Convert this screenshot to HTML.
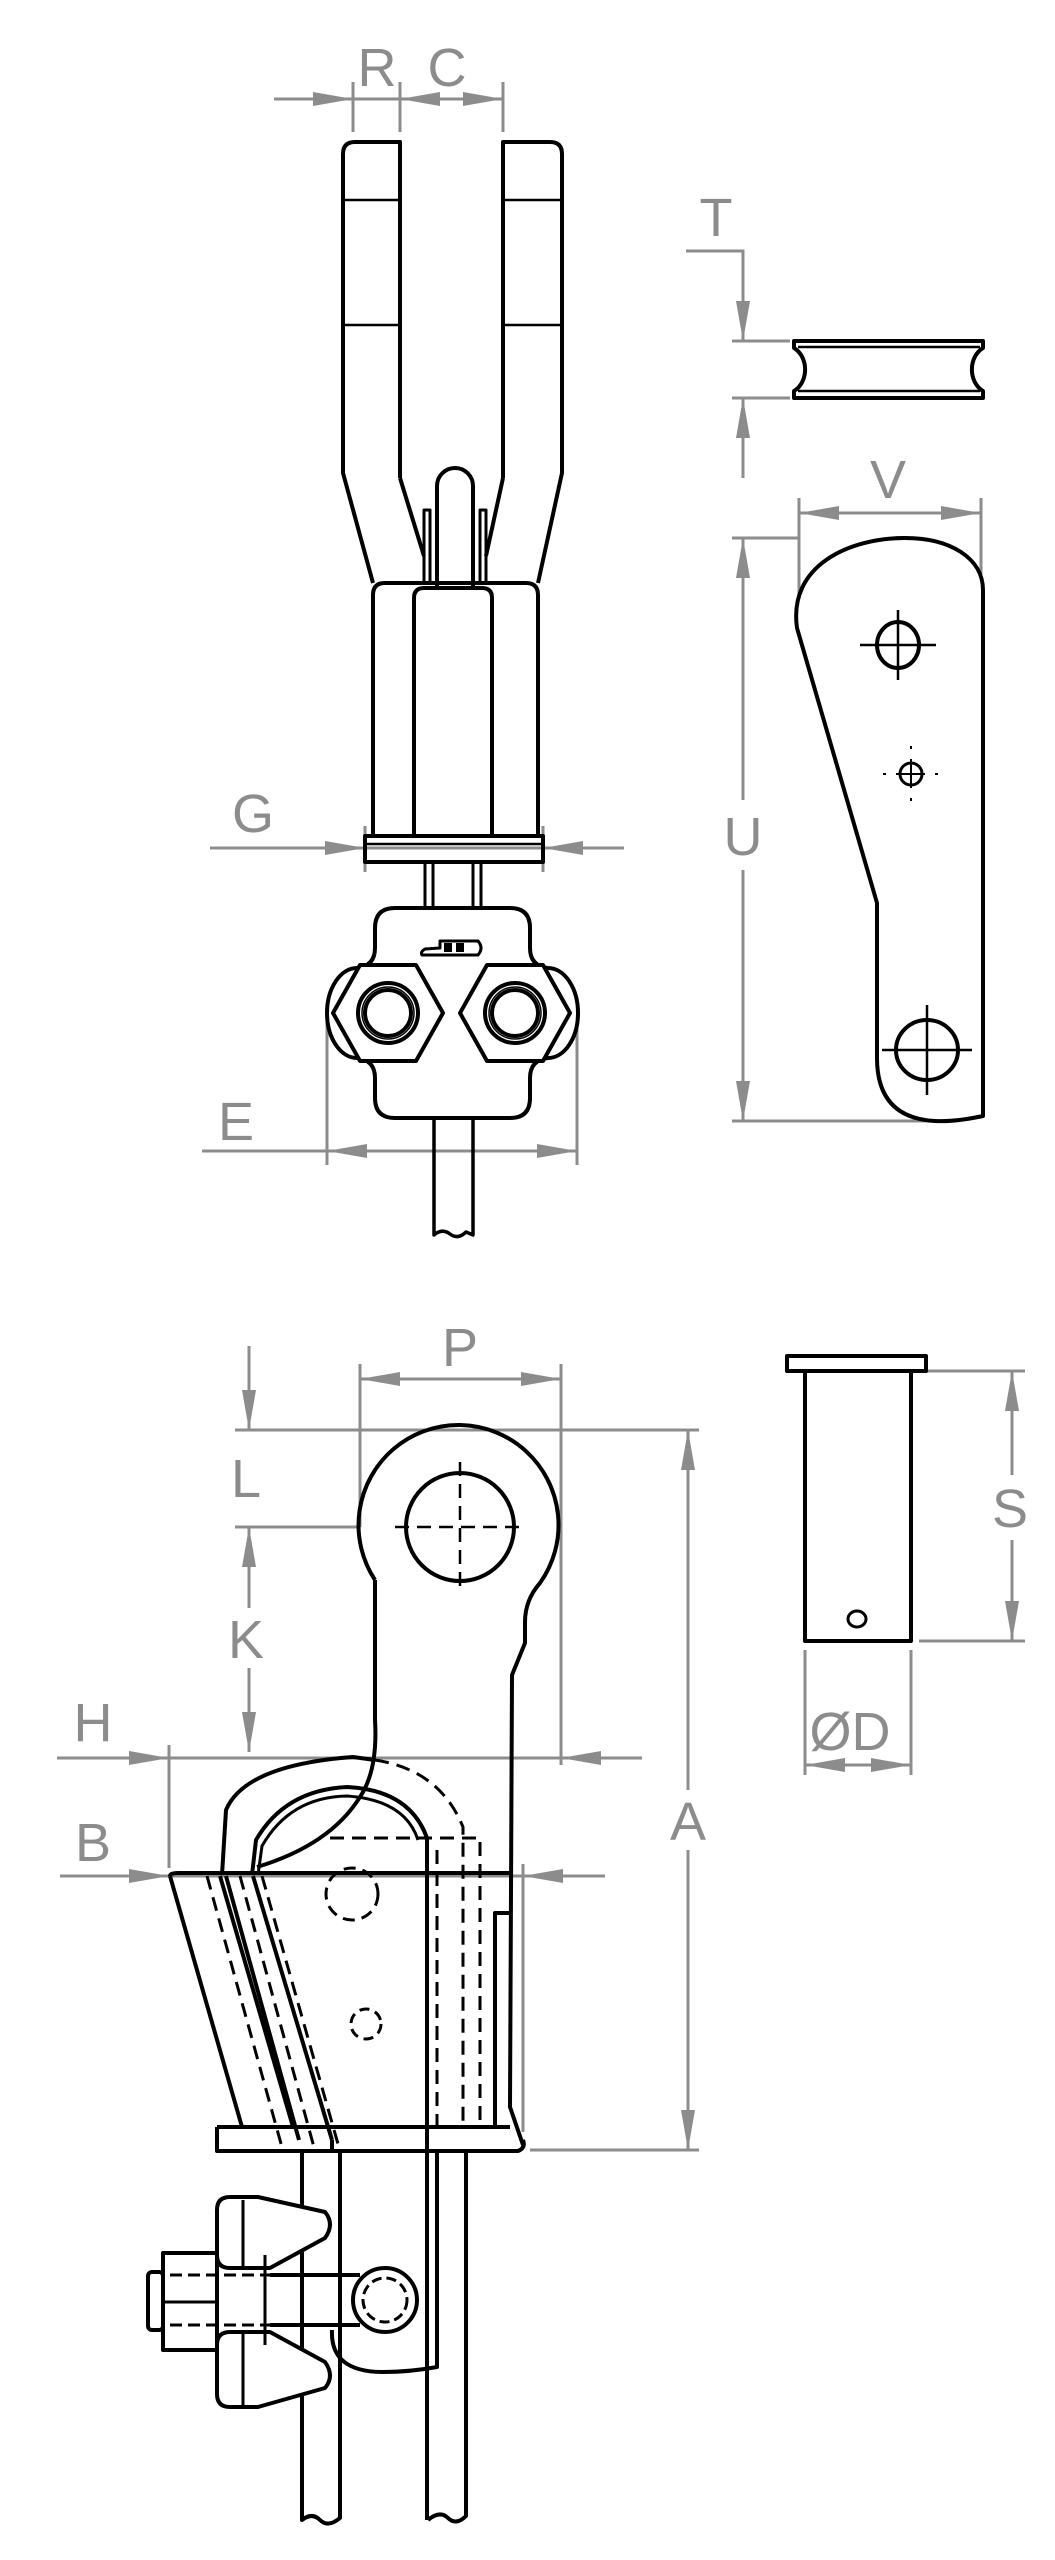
<!DOCTYPE html>
<html><head><meta charset="utf-8"><style>
html,body{margin:0;padding:0;background:#fff}
svg{display:block}
text{font-family:"Liberation Sans",sans-serif;fill:#8c8c8c;text-anchor:middle}
</style></head><body>
<svg width="1055" height="2560" viewBox="0 0 1055 2560" xmlns="http://www.w3.org/2000/svg">
<defs>
<marker id="a" markerUnits="userSpaceOnUse" markerWidth="44" markerHeight="20" refX="40" refY="10" orient="auto"><path d="M0,3 L40,10 L0,17 Z" fill="#8c8c8c"/></marker>
</defs>

<!-- ============ DIMENSIONS (grey) ============ -->
<g stroke="#8c8c8c" stroke-width="3" fill="none">
<!-- R C -->
<line x1="274" y1="99" x2="503" y2="99"/>
<line x1="353" y1="82" x2="353" y2="132"/><line x1="400" y1="82" x2="400" y2="132"/><line x1="503" y1="82" x2="503" y2="132"/>
<line x1="312" y1="99" x2="353" y2="99" marker-end="url(#a)"/>
<line x1="442" y1="99" x2="400" y2="99" marker-end="url(#a)"/>
<line x1="462" y1="99" x2="503" y2="99" marker-end="url(#a)"/>
<!-- G -->
<line x1="210" y1="848" x2="624" y2="848"/>
<line x1="365" y1="826" x2="365" y2="872"/><line x1="543" y1="826" x2="543" y2="872"/>
<line x1="320" y1="848" x2="365" y2="848" marker-end="url(#a)"/>
<line x1="588" y1="848" x2="543" y2="848" marker-end="url(#a)"/>
<!-- E -->
<line x1="202" y1="1151" x2="578" y2="1151"/>
<line x1="327" y1="1015" x2="327" y2="1165"/><line x1="577" y1="1015" x2="577" y2="1165"/>
<line x1="370" y1="1151" x2="327" y2="1151" marker-end="url(#a)"/>
<line x1="535" y1="1151" x2="577" y2="1151" marker-end="url(#a)"/>
<!-- T -->
<polyline points="686,251 743,251 743,300"/>
<line x1="743" y1="296" x2="743" y2="341" marker-end="url(#a)"/>
<line x1="732" y1="341" x2="790" y2="341"/><line x1="732" y1="398" x2="790" y2="398"/>
<line x1="743" y1="478" x2="743" y2="440"/>
<line x1="743" y1="442" x2="743" y2="398" marker-end="url(#a)"/>
<!-- V -->
<line x1="799" y1="513" x2="981" y2="513"/>
<line x1="799" y1="498" x2="799" y2="595"/><line x1="981" y1="498" x2="981" y2="580"/>
<line x1="842" y1="513" x2="799" y2="513" marker-end="url(#a)"/>
<line x1="938" y1="513" x2="981" y2="513" marker-end="url(#a)"/>
<!-- U -->
<line x1="732" y1="538" x2="799" y2="538"/><line x1="732" y1="1121" x2="926" y2="1121"/>
<line x1="743" y1="538" x2="743" y2="800"/><line x1="743" y1="870" x2="743" y2="1121"/>
<line x1="743" y1="580" x2="743" y2="538" marker-end="url(#a)"/>
<line x1="743" y1="1080" x2="743" y2="1121" marker-end="url(#a)"/>
<!-- P -->
<line x1="360" y1="1379" x2="561" y2="1379"/>
<line x1="360" y1="1364" x2="360" y2="1527"/><line x1="561" y1="1364" x2="561" y2="1765"/>
<line x1="402" y1="1379" x2="360" y2="1379" marker-end="url(#a)"/>
<line x1="519" y1="1379" x2="561" y2="1379" marker-end="url(#a)"/>
<!-- L / K -->
<line x1="249" y1="1346" x2="249" y2="1430" marker-end="url(#a)"/>
<line x1="235" y1="1430" x2="699" y2="1430"/>
<line x1="235" y1="1527" x2="360" y2="1527"/>
<line x1="249" y1="1527" x2="249" y2="1608"/><line x1="249" y1="1668" x2="249" y2="1752"/>
<line x1="249" y1="1570" x2="249" y2="1527" marker-end="url(#a)"/>
<line x1="249" y1="1710" x2="249" y2="1752" marker-end="url(#a)"/>
<!-- H -->
<line x1="57" y1="1758" x2="642" y2="1758"/>
<line x1="169" y1="1745" x2="169" y2="1868"/>
<line x1="127" y1="1758" x2="169" y2="1758" marker-end="url(#a)"/>
<line x1="603" y1="1758" x2="561" y2="1758" marker-end="url(#a)"/>
<!-- B -->
<line x1="60" y1="1876" x2="605" y2="1876"/>
<line x1="523" y1="1864" x2="523" y2="2132"/>
<line x1="127" y1="1876" x2="169" y2="1876" marker-end="url(#a)"/>
<line x1="565" y1="1876" x2="523" y2="1876" marker-end="url(#a)"/>
<!-- A -->
<line x1="688" y1="1430" x2="688" y2="1790"/><line x1="688" y1="1850" x2="688" y2="2150"/>
<line x1="530" y1="2150" x2="699" y2="2150"/>
<line x1="688" y1="1472" x2="688" y2="1430" marker-end="url(#a)"/>
<line x1="688" y1="2108" x2="688" y2="2150" marker-end="url(#a)"/>
<!-- S -->
<line x1="919" y1="1371" x2="1025" y2="1371"/><line x1="919" y1="1641" x2="1025" y2="1641"/>
<line x1="1012" y1="1371" x2="1012" y2="1475"/><line x1="1012" y1="1540" x2="1012" y2="1641"/>
<line x1="1012" y1="1413" x2="1012" y2="1371" marker-end="url(#a)"/>
<line x1="1012" y1="1599" x2="1012" y2="1641" marker-end="url(#a)"/>
<!-- D -->
<line x1="805" y1="1650" x2="805" y2="1775"/><line x1="911" y1="1650" x2="911" y2="1775"/>
<line x1="805" y1="1765" x2="911" y2="1765"/>
<line x1="848" y1="1765" x2="805" y2="1765" marker-end="url(#a)"/>
<line x1="868" y1="1765" x2="911" y2="1765" marker-end="url(#a)"/>
</g>

<g font-size="54">
<text x="377" y="86">R</text><text x="447" y="86">C</text>
<text x="253" y="832">G</text>
<text x="236" y="1140">E</text>
<text x="716" y="236">T</text>
<text x="888" y="498">V</text>
<text x="743" y="855">U</text>
<text x="460" y="1366">P</text>
<text x="246" y="1497">L</text>
<text x="246" y="1658">K</text>
<text x="93" y="1741">H</text>
<text x="93" y="1861">B</text>
<text x="688" y="1840">A</text>
<text x="1010" y="1527">S</text>
<text x="850" y="1750">ØD</text>
</g>

<!-- ============ BLACK PARTS ============ -->
<g stroke="#000" stroke-width="4" fill="none" stroke-linejoin="round">
<!-- prongs -->
<path d="M400,478 L400,142 L355,142 Q343,142 343,154 L343,473 L373,583"/>
<line x1="343" y1="200" x2="400" y2="200" stroke-width="2.5"/><line x1="343" y1="325" x2="400" y2="325" stroke-width="2.5"/>
<line x1="400" y1="478" x2="424" y2="556"/>
<path d="M503,478 L503,142 L550,142 Q562,142 562,154 L562,473 L538,583"/>
<line x1="503" y1="200" x2="562" y2="200" stroke-width="2.5"/><line x1="503" y1="325" x2="562" y2="325" stroke-width="2.5"/>
<line x1="503" y1="478" x2="486" y2="556"/>
<!-- pin & rails -->
<path d="M437,588 L437,486 A18,18 0 0 1 473,486 L473,588"/>
<rect x="424" y="510" width="6" height="73" stroke-width="3"/>
<rect x="480" y="510" width="6" height="73" stroke-width="3"/>
<!-- body -->
<path d="M373,836 L373,595 Q373,583 385,583 L526,583 Q538,583 538,595 L538,836"/>
<path d="M414,836 L414,598 Q414,588 424,588 L482,588 Q492,588 492,598 L492,836"/>
<!-- washer -->
<rect x="365" y="836" width="178" height="26"/>
<line x1="365" y1="844" x2="543" y2="844" stroke-width="2.5"/>
<!-- wires -->
<line x1="425" y1="862" x2="425" y2="908" stroke-width="3"/><line x1="433" y1="862" x2="433" y2="908" stroke-width="3"/>
<line x1="473" y1="862" x2="473" y2="908" stroke-width="3"/><line x1="481" y1="862" x2="481" y2="908" stroke-width="3"/>
<!-- clamp body -->
<path d="M395,908 L510,908 Q530,908 530,928 L530,948 Q530,966 548,968 A30,45 0 0 1 548,1058 Q530,1060 530,1078 L530,1098 Q530,1118 510,1118 L395,1118 Q375,1118 375,1098 L375,1078 Q375,1060 357,1058 A30,45 0 0 1 357,968 Q375,966 375,948 L375,928 Q375,908 395,908 Z" fill="#fff"/>
<!-- hex nuts -->
<polygon points="333,1013 360,965 416,965 443,1013 416,1061 360,1061" fill="#fff"/>
<polygon points="460,1013 487,965 543,965 570,1013 543,1061 487,1061" fill="#fff"/>
<circle cx="388" cy="1013" r="30"/><circle cx="388" cy="1013" r="23"/><circle cx="388" cy="1013" r="26" stroke-width="1.5"/>
<circle cx="515" cy="1013" r="30"/><circle cx="515" cy="1013" r="23"/><circle cx="515" cy="1013" r="26" stroke-width="1.5"/>
<!-- logo -->
<path d="M422,955 L478,955 Q484,948 478,941 L440,941 L440,948 L425,949 Q420,952 422,955 Z" stroke-width="3"/>
<rect x="444" y="943" width="8" height="9" fill="#000" stroke="none"/><rect x="456" y="943" width="8" height="9" fill="#000" stroke="none"/>
<!-- cable -->
<path d="M434,1118 L434,1235 Q442,1228 450,1234 Q458,1240 466,1232 L473,1235 L473,1118" stroke-width="3.5"/>

<!-- T washer -->
<path d="M794,341 L983,341 L983,348 A20,24 0 0 0 983,391 L983,398 L794,398 L794,391 A20,24 0 0 0 794,348 Z"/>
<line x1="798" y1="347" x2="980" y2="347" stroke-width="2.5"/><line x1="798" y1="391" x2="980" y2="391" stroke-width="2.5"/>

<!-- plate -->
<path d="M797,628 C788,565 850,538 905,538 C950,538 983,558 983,590 L983,1116 Q955,1122 935,1121 Q877,1118 877,1058 L877,903 L797,628 Z"/>
<ellipse cx="898" cy="645" rx="21" ry="23"/>
<line x1="860" y1="645" x2="936" y2="645" stroke-width="2.5"/><line x1="898" y1="610" x2="898" y2="680" stroke-width="2.5"/>
<circle cx="911" cy="774" r="11" stroke-width="3"/>
<line x1="898" y1="774" x2="924" y2="774" stroke-width="2"/><line x1="911" y1="761" x2="911" y2="787" stroke-width="2"/>
<line x1="883" y1="774" x2="939" y2="774" stroke-width="2" stroke-dasharray="3 10"/>
<line x1="911" y1="746" x2="911" y2="802" stroke-width="2" stroke-dasharray="3 10"/>
<ellipse cx="927" cy="1050" rx="31" ry="30"/>
<line x1="882" y1="1050" x2="972" y2="1050" stroke-width="2.5"/><line x1="927" y1="1005" x2="927" y2="1095" stroke-width="2.5"/>

<!-- pin S/D -->
<rect x="787" y="1356" width="139" height="15"/>
<rect x="805" y="1371" width="106" height="270"/>
<ellipse cx="857" cy="1619" rx="9" ry="8" stroke-width="3"/>

<!-- ===== bottom assembly ===== -->
<!-- eye + stem -->
<path d="M375,1580 A100,100 0 1 1 540,1583 Q525,1600 525,1622 L525,1643 L512,1675 L510,2107 L523,2145"/>
<path d="M375,1580 L375,1720 Q378,1770 360,1797 Q330,1845 257,1867"/>
<circle cx="460" cy="1527" r="54"/>
<g stroke-width="2.5" stroke-dasharray="14 8"><line x1="395" y1="1527" x2="525" y2="1527"/><line x1="460" y1="1462" x2="460" y2="1592"/></g>
<!-- hook outer arc -->
<path d="M222,1875 L226,1810 Q245,1765 353,1757 L375,1760"/>
<path d="M375,1760 Q440,1770 463,1827 L463,2127" stroke-dasharray="14 8" stroke-width="3"/>
<!-- hook inner arcs -->
<path d="M252,1875 L256,1840 Q285,1790 347,1787 Q410,1790 427,1838 L427,2520"/>
<path d="M258,1875 L262,1846 Q290,1797 347,1796 Q405,1800 418,1840" stroke-width="3"/>
<line x1="437" y1="1850" x2="437" y2="2127" stroke-dasharray="14 8" stroke-width="3"/>
<path d="M347,1787 L405,1789" stroke="none"/>
<!-- dashed rect -->
<path d="M330,1838 L480,1838 L480,2127" stroke-dasharray="14 8" stroke-width="3"/>
<!-- bracket -->
<path d="M480,1873 L510,1873"/>
<path d="M495,2127 L495,1913 L510,1913"/>
<!-- slanted body -->
<path d="M170,1876 Q170,1873 178,1873 L480,1873"/>
<line x1="170" y1="1876" x2="242" y2="2127"/>
<line x1="220" y1="1876" x2="293" y2="2127"/>
<line x1="226" y1="1876" x2="299" y2="2140"/>
<line x1="253" y1="1876" x2="332" y2="2140"/>
<line x1="332" y1="2140" x2="332" y2="2151"/>
<g stroke-width="3" stroke-dasharray="14 8">
<line x1="207" y1="1876" x2="283" y2="2151"/>
<line x1="240" y1="1876" x2="315" y2="2151"/>
<line x1="262" y1="1876" x2="340" y2="2151"/>
</g>
<!-- dashed circles -->
<circle cx="352" cy="1894" r="26" stroke-dasharray="12 7" stroke-width="3"/>
<circle cx="366" cy="2024" r="15" stroke-dasharray="10 6" stroke-width="3"/>
<!-- base plate -->
<path d="M217,2127 L510,2127 M217,2127 L217,2151 L518,2151 Q526,2148 523,2140"/>
<!-- cables -->
<path d="M302,2151 L302,2520 Q312,2512 320,2520 Q328,2528 340,2518 L340,2151"/>
<path d="M428,2520 Q440,2510 448,2518 Q456,2526 466,2516 L466,2151"/>
<!-- loop -->
<path d="M437,2151 L437,2367 Q410,2372 383,2372 Q330,2372 332,2330"/>
<!-- eye of bolt -->
<circle cx="385" cy="2300" r="32" fill="#fff"/>
<circle cx="385" cy="2300" r="22" stroke-dasharray="10 5" stroke-width="3"/>
<!-- shaft -->
<path d="M270,2275 L360,2275 M270,2325 L360,2325"/>
<!-- wedges -->
<path d="M230,2197 L258,2197 L325,2212 Q335,2224 325,2238 L270,2268 L230,2268 Q217,2268 217,2255 L217,2210 Q217,2197 230,2197 Z" fill="#fff"/>
<line x1="243" y1="2200" x2="243" y2="2266" stroke-width="3"/>
<path d="M230,2332 L270,2332 L325,2362 Q335,2376 325,2388 L258,2407 L230,2407 Q217,2407 217,2394 L217,2345 Q217,2332 230,2332 Z" fill="#fff"/>
<line x1="243" y1="2334" x2="243" y2="2405" stroke-width="3"/>
<line x1="265" y1="2255" x2="265" y2="2345" stroke-width="3"/>
<!-- hex nut & bolt end -->
<rect x="163" y="2253" width="54" height="97" fill="#fff"/>
<line x1="163" y1="2302" x2="217" y2="2302" stroke-width="3"/>
<rect x="148" y="2272" width="15" height="58" rx="4"/>
<g stroke-width="3" stroke-dasharray="12 6"><line x1="170" y1="2275" x2="270" y2="2275"/><line x1="170" y1="2325" x2="270" y2="2325"/></g>
</g>
</svg>
</body></html>
